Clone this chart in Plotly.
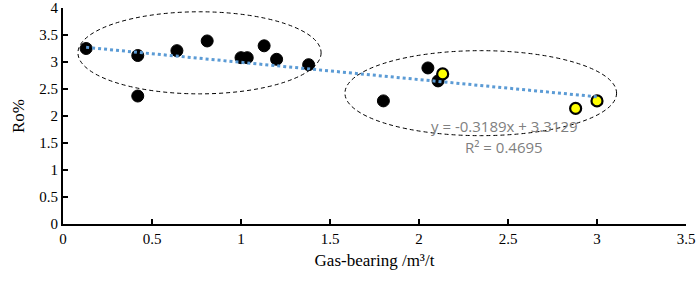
import plotly.graph_objects as go

# Data
black_x = [0.13, 0.42, 0.42, 0.64, 0.81, 1.00, 1.035, 1.13, 1.20, 1.38, 1.80, 2.05, 2.107]
black_y = [3.25, 3.12, 2.37, 3.21, 3.39, 3.08, 3.08, 3.30, 3.05, 2.95, 2.28, 2.89, 2.65]
yellow_x = [2.133, 2.88, 3.00]
yellow_y = [2.78, 2.14, 2.28]
slope = -0.3189
intercept = 3.3129
r2 = 0.4695
x_ticks = [0, 0.5, 1, 1.5, 2, 2.5, 3, 3.5]
y_ticks = [0, 0.5, 1, 1.5, 2, 2.5, 3, 3.5, 4]

all_x = black_x + yellow_x
tx = [min(all_x), max(all_x)]
ty = [slope * v + intercept for v in tx]

SERIF = "Liberation Serif, Times New Roman, serif"
SANS = "Open Sans, Liberation Sans, sans-serif"

fig = go.Figure()
fig.add_trace(go.Scatter(x=black_x, y=black_y, mode="markers",
                         marker=dict(color="black", size=12, line=dict(color="black", width=1)),
                         showlegend=False))
fig.add_trace(go.Scatter(x=yellow_x, y=yellow_y, mode="markers",
                         marker=dict(color="#FFFF00", size=11, line=dict(color="black", width=2.2)),
                         showlegend=False))
fig.add_trace(go.Scatter(x=tx, y=ty, mode="lines",
                         line=dict(color="#5B9BD5", width=3, dash="3px,3px"),
                         showlegend=False))

# ellipses
fig.add_shape(type="circle", xref="x", yref="y", x0=0.084, x1=1.45, y0=2.41, y1=3.93,
              line=dict(color="black", width=1, dash="4px,3px"), layer="above")
fig.add_shape(type="circle", xref="x", yref="y", x0=1.584, x1=3.11, y0=1.636, y1=3.21,
              line=dict(color="black", width=1, dash="4px,3px"), layer="above")

fig.add_annotation(x=2.48, y=1.81, xref="x", yref="y",
                   text=f"y = {slope}x + {intercept}", showarrow=False,
                   font=dict(family=SANS, size=15, color="#7F7F7F"))
fig.add_annotation(x=2.48, y=1.42, xref="x", yref="y",
                   text=f"R² = {r2}", showarrow=False,
                   font=dict(family=SANS, size=15, color="#7F7F7F"))

axis_common = dict(showgrid=False, zeroline=False, showline=True, linecolor="black", linewidth=2,
                   ticks="inside", tickcolor="black", tickwidth=1.5, ticklen=5, automargin=False,
                   ticklabeloverflow="allow",
                   tickfont=dict(family=SERIF, size=15, color="black"))
fig.update_xaxes(range=[0, 3.5], tickvals=x_ticks, ticktext=[f"{v:g}" for v in x_ticks],
                 title=dict(text="Gas-bearing /m³/t", font=dict(family=SERIF, size=17, color="black"), standoff=8),
                 **axis_common)
fig.update_yaxes(range=[0, 4], tickvals=y_ticks, ticktext=[f"{v:g}" for v in y_ticks],
                 title=dict(text="Ro%", font=dict(family=SERIF, size=17, color="black"), standoff=10),
                 **axis_common)

fig.update_layout(width=699, height=285, margin=dict(l=63, r=13, t=8, b=61),
                  plot_bgcolor="white", paper_bgcolor="white")
fig.write_html("out.html", config={"displayModeBar": False},
               post_script="document.body.style.margin='0';document.body.style.overflow='hidden';")
